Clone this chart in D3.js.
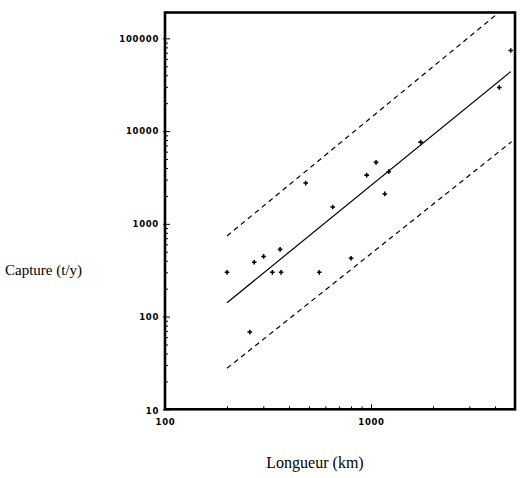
<!DOCTYPE html>
<html>
<head>
<meta charset="utf-8">
<script src="https://cdn.jsdelivr.net/npm/d3@7"></script>
<style>
  html, body { margin: 0; padding: 0; background: #fff; }
  svg { display: block; }
  .tick text { font-family: "DejaVu Sans", sans-serif; font-size: 8.5px; font-weight: bold; letter-spacing: 0.7px; fill: #000; }
  .title { font-family: "Liberation Serif", "Times New Roman", serif; fill: #000; }
</style>
</head>
<body>
<svg id="chart" width="525" height="478"></svg>
<script>
// ---- data ----
const lengthKm = [200, 258, 271, 301, 332, 362, 366, 482, 561, 652, 800, 953, 1058, 1166, 1219, 1742, 4195, 4767];
const captureTy = [300, 68, 385, 445, 300, 530, 300, 2750, 300, 1520, 425, 3350, 4600, 2100, 3650, 7600, 29500, 74000];
// fitted line and prediction band endpoints [x, y]
const fitLine   = [[200, 141], [4767, 43800]];
const upperBand = [[200, 740], [4045, 179000]];
const lowerBand = [[200, 27.7], [4820, 7700]];
// tick values
const xMajorTicks = [100, 1000];
const xMinorTicks = [200, 300, 400, 500, 600, 700, 800, 900, 2000, 3000, 4000];
const yMajorTicks = [10, 100, 1000, 10000, 100000];
const yMinorTicks = [20,30,40,50,60,70,80,90, 200,300,400,500,600,700,800,900,
                     2000,3000,4000,5000,6000,7000,8000,9000,
                     20000,30000,40000,50000,60000,70000,80000,90000];

const svg = d3.select("#chart");
const mLeft = 165, mRight = 515, mTop = 12.5, mBottom = 409.3;

const x = d3.scaleLog().domain([100, 5000]).range([mLeft, mRight]);
const y = d3.scaleLog().domain([10, 190000]).range([mBottom, mTop]);

// minor ticks
svg.append("g").attr("transform", `translate(0,${mBottom})`)
  .call(d3.axisBottom(x).tickValues(xMinorTicks).tickSize(-3).tickFormat(""))
  .call(g => g.select(".domain").remove());
svg.append("g").attr("transform", `translate(${mLeft},0)`)
  .call(d3.axisLeft(y).tickValues(yMinorTicks).tickSize(-3).tickFormat(""))
  .call(g => g.select(".domain").remove());

// major ticks + labels
svg.append("g").attr("transform", `translate(0,${mBottom})`)
  .call(d3.axisBottom(x).tickValues(xMajorTicks).tickSize(-5).tickPadding(10).tickFormat(d3.format("d")))
  .call(g => g.select(".domain").remove());
const yAx = svg.append("g").attr("transform", `translate(${mLeft},0)`)
  .call(d3.axisLeft(y).tickValues(yMajorTicks).tickSize(-5).tickPadding(6).tickFormat(d3.format("d")))
  .call(g => g.select(".domain").remove());
yAx.selectAll(".tick").filter(d => d === 10).select("text").attr("dy", "0.5em");
// small outward stubs at the major y ticks
yAx.selectAll(".tick").append("line").attr("x1", -2).attr("x2", 0);

svg.selectAll(".tick line").attr("stroke", "#000").attr("stroke-width", 1);

// frame
svg.append("rect")
  .attr("x", mLeft).attr("y", mTop)
  .attr("width", mRight - mLeft).attr("height", mBottom - mTop)
  .attr("fill", "none").attr("stroke", "#000").attr("stroke-width", 2.6);

// lines
const line = d3.line().x(d => x(d[0])).y(d => y(d[1]));
svg.append("path").datum(fitLine).attr("d", line)
  .attr("fill", "none").attr("stroke", "#000").attr("stroke-width", 1.2);
[upperBand, lowerBand].forEach(b => {
  svg.append("path").datum(b).attr("d", line)
    .attr("fill", "none").attr("stroke", "#000").attr("stroke-width", 1.2)
    .attr("stroke-dasharray", "5,4");
});

// points
const sym = d3.symbol().type(d3.symbolCross).size(12);
svg.append("g").selectAll("path")
  .data(lengthKm.map((d, i) => [d, captureTy[i]]))
  .join("path")
  .attr("transform", d => `translate(${x(d[0])},${y(d[1])})`)
  .attr("d", sym)
  .attr("fill", "#000");

// titles
svg.append("text").attr("class", "title")
  .attr("x", 5).attr("y", 275).attr("font-size", 15)
  .text("Capture (t/y)");
svg.append("text").attr("class", "title")
  .attr("x", 315).attr("y", 468).attr("font-size", 16).attr("text-anchor", "middle")
  .text("Longueur (km)");
</script>
</body>
</html>
